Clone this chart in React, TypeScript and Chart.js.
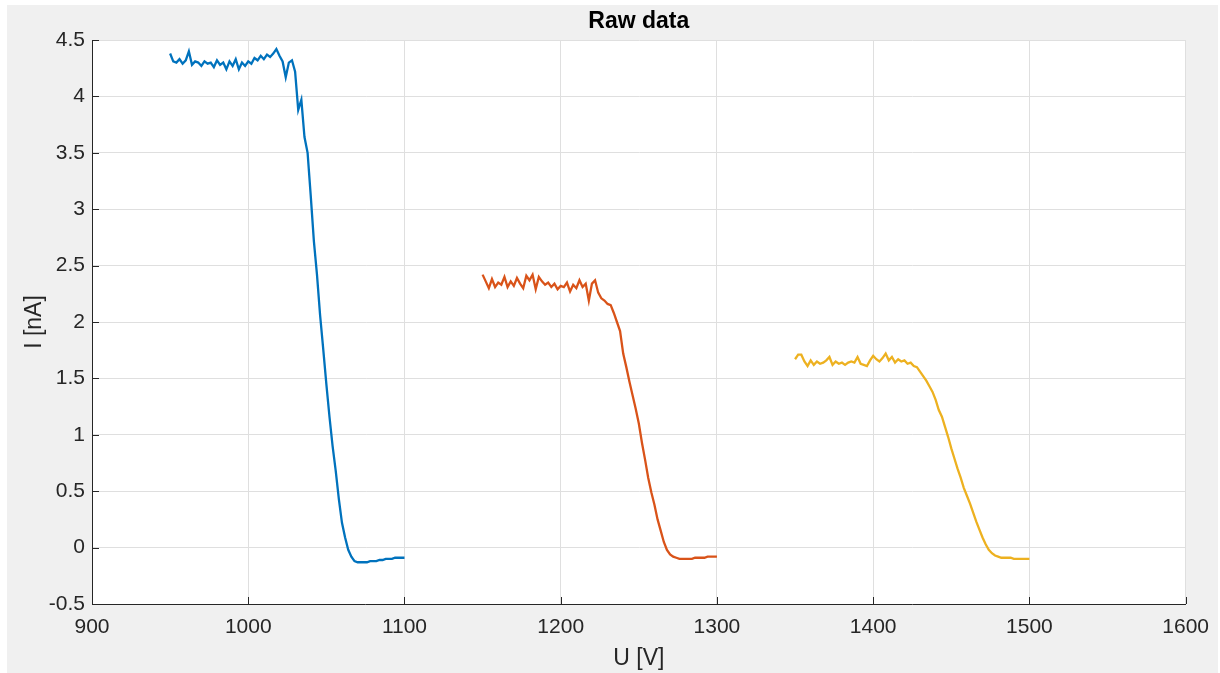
import React, { useEffect, useRef } from "react";
import { Chart, registerables } from "chart.js";

Chart.register(...registerables);

const range = (start: number, end: number, step: number) => {
  const out: number[] = [];
  for (let v = start; v <= end + 1e-9; v += step) out.push(v);
  return out;
};

// Voltage grids (V)
const blueU = range(950, 1100, 2);
const redU = range(1150, 1300, 2);
const yellowU = range(1350, 1500, 2);

// Currents (nA)
const blueI = [
  4.38, 4.31, 4.3, 4.33, 4.29, 4.32, 4.4, 4.28, 4.31, 4.3,
  4.27, 4.31, 4.29, 4.3, 4.26, 4.32, 4.28, 4.3, 4.24, 4.31,
  4.27, 4.33, 4.24, 4.3, 4.27, 4.31, 4.29, 4.34, 4.32, 4.36,
  4.33, 4.37, 4.35, 4.38, 4.42, 4.36, 4.31, 4.17, 4.3, 4.32,
  4.22, 3.88, 3.97, 3.64, 3.5, 3.12, 2.72, 2.42, 2.06, 1.76,
  1.45, 1.16, 0.9, 0.68, 0.43, 0.22, 0.09, -0.02, -0.08, -0.12,
  -0.13, -0.13, -0.13, -0.13, -0.12, -0.12, -0.12, -0.11, -0.11, -0.1,
  -0.1, -0.1, -0.09, -0.09, -0.09, -0.09,
];
const redI = [
  2.42, 2.36, 2.3, 2.38, 2.31, 2.35, 2.33, 2.4, 2.31, 2.36,
  2.32, 2.39, 2.34, 2.3, 2.41, 2.37, 2.42, 2.29, 2.4, 2.36,
  2.33, 2.35, 2.31, 2.34, 2.29, 2.32, 2.31, 2.35, 2.27, 2.33,
  2.3, 2.37, 2.31, 2.34, 2.19, 2.34, 2.37, 2.26, 2.21, 2.19,
  2.16, 2.15, 2.08, 2.0, 1.92, 1.72, 1.6, 1.47, 1.35, 1.23,
  1.1, 0.93, 0.78, 0.62, 0.49, 0.38, 0.25, 0.15, 0.05, -0.02,
  -0.06, -0.08, -0.09, -0.1, -0.1, -0.1, -0.1, -0.1, -0.09, -0.09,
  -0.09, -0.09, -0.08, -0.08, -0.08, -0.08,
];
const yellowI = [
  1.67, 1.71, 1.71, 1.65, 1.61, 1.66, 1.62, 1.65, 1.63, 1.64,
  1.66, 1.69, 1.62, 1.65, 1.63, 1.64, 1.62, 1.64, 1.65, 1.64,
  1.69, 1.63, 1.62, 1.61, 1.66, 1.7, 1.67, 1.65, 1.68, 1.72,
  1.66, 1.69, 1.64, 1.67, 1.65, 1.66, 1.63, 1.64, 1.61, 1.6,
  1.56, 1.52, 1.48, 1.43, 1.38, 1.31, 1.22, 1.16, 1.07, 0.98,
  0.88, 0.79, 0.7, 0.62, 0.53, 0.46, 0.39, 0.31, 0.23, 0.16,
  0.09, 0.03, -0.02, -0.05, -0.07, -0.08, -0.09, -0.09, -0.09, -0.09,
  -0.1, -0.1, -0.1, -0.1, -0.1, -0.1,
];

const titleText = "Raw data";
const xTitle = "U [V]";
const yTitle = "I [nA]";

const FONT = "'Liberation Sans', Arial, Helvetica, sans-serif";

const toPts = (u: number[], i: number[]) => u.map((x, k) => ({ x, y: i[k] }));

export default function App() {
  const ref = useRef<HTMLCanvasElement | null>(null);

  useEffect(() => {
    document.body.style.margin = "0";
    const canvas = ref.current;
    if (!canvas) return;

    const frame = {
      id: "frame",
      beforeDraw(chart: any) {
        const { ctx, chartArea: a } = chart;
        ctx.save();
        ctx.fillStyle = "#ffffff";
        ctx.fillRect(0, 0, chart.width, chart.height);
        ctx.fillStyle = "#f0f0f0";
        ctx.fillRect(7, 5, 1211, 668);
        ctx.fillStyle = "#ffffff";
        ctx.fillRect(a.left, a.top, a.right - a.left, a.bottom - a.top);
        ctx.restore();
      },
      afterDraw(chart: any) {
        const { ctx, chartArea: a, scales } = chart;
        ctx.save();
        ctx.strokeStyle = "#262626";
        ctx.lineWidth = 1;
        ctx.beginPath();
        scales.x.ticks.forEach((t: any) => {
          const px = Math.round(scales.x.getPixelForValue(t.value)) + 0.5;
          ctx.moveTo(px, a.bottom);
          ctx.lineTo(px, a.bottom - 7);
        });
        scales.y.ticks.forEach((t: any) => {
          const py = Math.round(scales.y.getPixelForValue(t.value)) + 0.5;
          ctx.moveTo(a.left, py);
          ctx.lineTo(a.left + 7, py);
        });
        ctx.stroke();

        ctx.fillStyle = "#000000";
        ctx.textAlign = "center";
        ctx.textBaseline = "alphabetic";
        ctx.font = `bold 23px ${FONT}`;
        ctx.fillText(titleText, (a.left + a.right) / 2, 28);

        ctx.fillStyle = "#262626";
        ctx.font = `23px ${FONT}`;
        ctx.fillText(xTitle, (a.left + a.right) / 2, 665);

        ctx.translate(41, (a.top + a.bottom) / 2);
        ctx.rotate(-Math.PI / 2);
        ctx.fillText(yTitle, 0, 0);
        ctx.restore();
      },
    };

    const chart = new Chart(canvas, {
      type: "line",
      data: {
        datasets: [
          { data: toPts(blueU, blueI), borderColor: "#0072BD", borderWidth: 2.3, pointRadius: 0, tension: 0 },
          { data: toPts(redU, redI), borderColor: "#D95319", borderWidth: 2.3, pointRadius: 0, tension: 0 },
          { data: toPts(yellowU, yellowI), borderColor: "#EDB120", borderWidth: 2.3, pointRadius: 0, tension: 0 },
        ],
      },
      options: {
        responsive: false,
        animation: false,
        layout: { padding: { left: 0, top: 40, right: 32, bottom: 0 } },
        plugins: { legend: { display: false }, title: { display: false }, tooltip: { enabled: false } },
        scales: {
          x: {
            type: "linear",
            min: 900,
            max: 1600,
            afterFit: (s: any) => { s.height = 69; },
            ticks: {
              stepSize: 100,
              padding: 11,
              color: "#262626",
              font: { family: FONT, size: 21 },
              maxRotation: 0,
              callback: (v: any) => String(v),
            },
            grid: { color: "#dfdfdf", drawTicks: false },
            border: { display: true, color: "#262626", width: 1 },
          },
          y: {
            type: "linear",
            min: -0.5,
            max: 4.5,
            afterFit: (s: any) => { s.width = 92; },
            ticks: {
              stepSize: 0.5,
              padding: 7,
              color: "#262626",
              font: { family: FONT, size: 21 },
              callback: (v: any) => String(Math.round(Number(v) * 10) / 10),
            },
            grid: { color: "#dfdfdf", drawTicks: false },
            border: { display: true, color: "#262626", width: 1 },
          },
        },
      },
      plugins: [frame],
    });
    return () => chart.destroy();
  }, []);

  return (
    <div style={{ width: 1220, height: 673 }}>
      <canvas ref={ref} width={1220} height={673} style={{ display: "block" }} />
    </div>
  );
}
